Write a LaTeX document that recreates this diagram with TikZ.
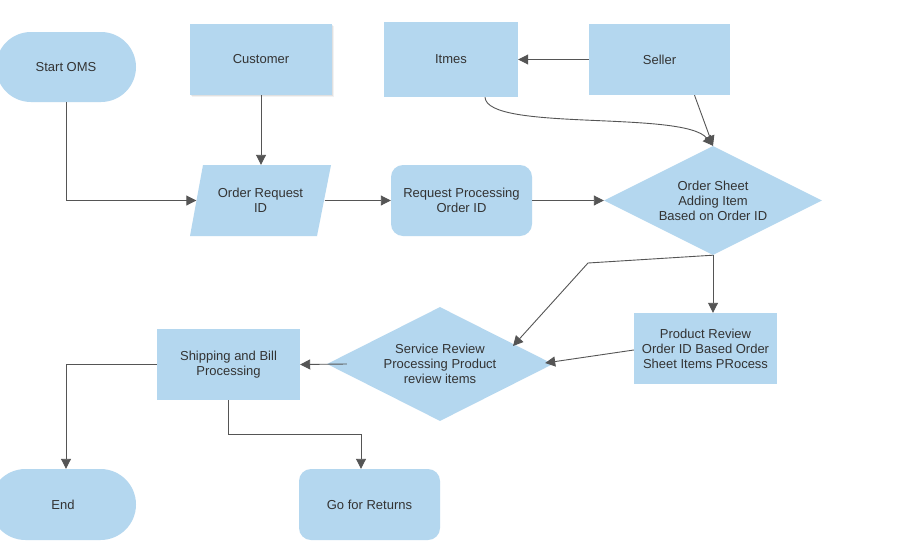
\documentclass[tikz,border=0pt]{standalone}
\usepackage{fontspec}
\setmainfont{Liberation Sans}
\usetikzlibrary{shapes.geometric,arrows.meta,shadows}
\definecolor{boxfill}{HTML}{B4D7EF}
\definecolor{linec}{HTML}{555555}
\definecolor{txt}{HTML}{333333}
\begin{document}
\begin{tikzpicture}[x=1pt,y=-1pt,
  every node/.style={font=\fontsize{13}{15}\selectfont, text=txt, align=center},
  box/.style={fill=boxfill, draw=none, inner sep=0pt},
  conn/.style={draw=linec, line width=0.9pt, -{Triangle[length=10pt,width=10pt]}}]
\useasboundingbox (0,0) rectangle (912,557);
\clip (0,0) rectangle (912,557);
\fill[white] (0,0) rectangle (912,557);
% nodes
\node[box, minimum width=140, minimum height=70, rounded corners=35] (start) at (66,67) {Start OMS};
\node[box, minimum width=142, minimum height=71,
  drop shadow={shadow xshift=2pt, shadow yshift=-2pt, fill=black, opacity=0.05},
  drop shadow={shadow xshift=1pt, shadow yshift=-1pt, fill=black, opacity=0.07}] (cust) at (261,59.5) {Customer};
\node[box, minimum width=134, minimum height=75] (items) at (451,59.5) {Itmes};
\node[box, minimum width=141, minimum height=71] (seller) at (659.5,59.5) {Seller};
\fill[boxfill] (203,165) -- (331,165) -- (317,236) -- (190,236) -- cycle;
\node[minimum width=128, minimum height=71, inner sep=0pt] (oreq) at (260.5,200.5) {Order Request\\ID};
\node[box, minimum width=141, minimum height=71, rounded corners=12] (rproc) at (461.5,200.5) {Request Processing\\Order ID};
\node[box, diamond, aspect=2, minimum width=218, minimum height=109] (osheet) at (713,200.5) {Order Sheet\\Adding Item\\Based on Order ID};
\node[box, minimum width=143, minimum height=71] (prev) at (705.5,348.5) {Product Review\\Order ID Based Order\\Sheet Items PRocess};
\node[box, diamond, aspect=2, minimum width=226, minimum height=114] (sr) at (440,364) {Service Review\\Processing Product\\review items};
\node[box, minimum width=143, minimum height=71] (ship) at (228.5,364.5) {Shipping and Bill\\Processing};
\node[box, minimum width=146, minimum height=71, rounded corners=35.5] (end) at (63,504.5) {End};
\node[box, minimum width=141, minimum height=71, rounded corners=12] (ret) at (369.5,504.5) {Go for Returns};
% helper coordinates
\coordinate (c1) at (487,132);
\coordinate (c2) at (684,110);
\coordinate (bend) at (588,263);
\coordinate (srin) at (513,346);
% connectors
\draw[conn] (start.south) |- (oreq.west);
\draw[conn] (cust.south) -- (cust.south |- oreq.north);
\draw[conn] (oreq.east) -- (rproc.west);
\draw[conn] (rproc.east) -- (osheet.west);
\draw[conn] (seller.west) -- (items.east);
\draw[conn] ([xshift=35]seller.south) -- (osheet.north);
\draw[conn] ([xshift=34]items.south) .. controls (c1) and (c2) .. (osheet.north);
\draw[conn] (osheet.south) -- (osheet.south |- prev.north);
\draw[conn] (osheet.south) -- (bend) -- (srin);
\draw[conn] ([yshift=-1.5]prev.west) -- ([xshift=-8,yshift=1]sr.east);
\draw[conn] ([xshift=20]sr.west) -- (ship.east);
\draw[conn] (ship.west) -| ([xshift=3]end.north);
\draw[conn] (ship.south) -- ++(0,34) -| ([xshift=-8.5]ret.north);
\end{tikzpicture}
\end{document}
